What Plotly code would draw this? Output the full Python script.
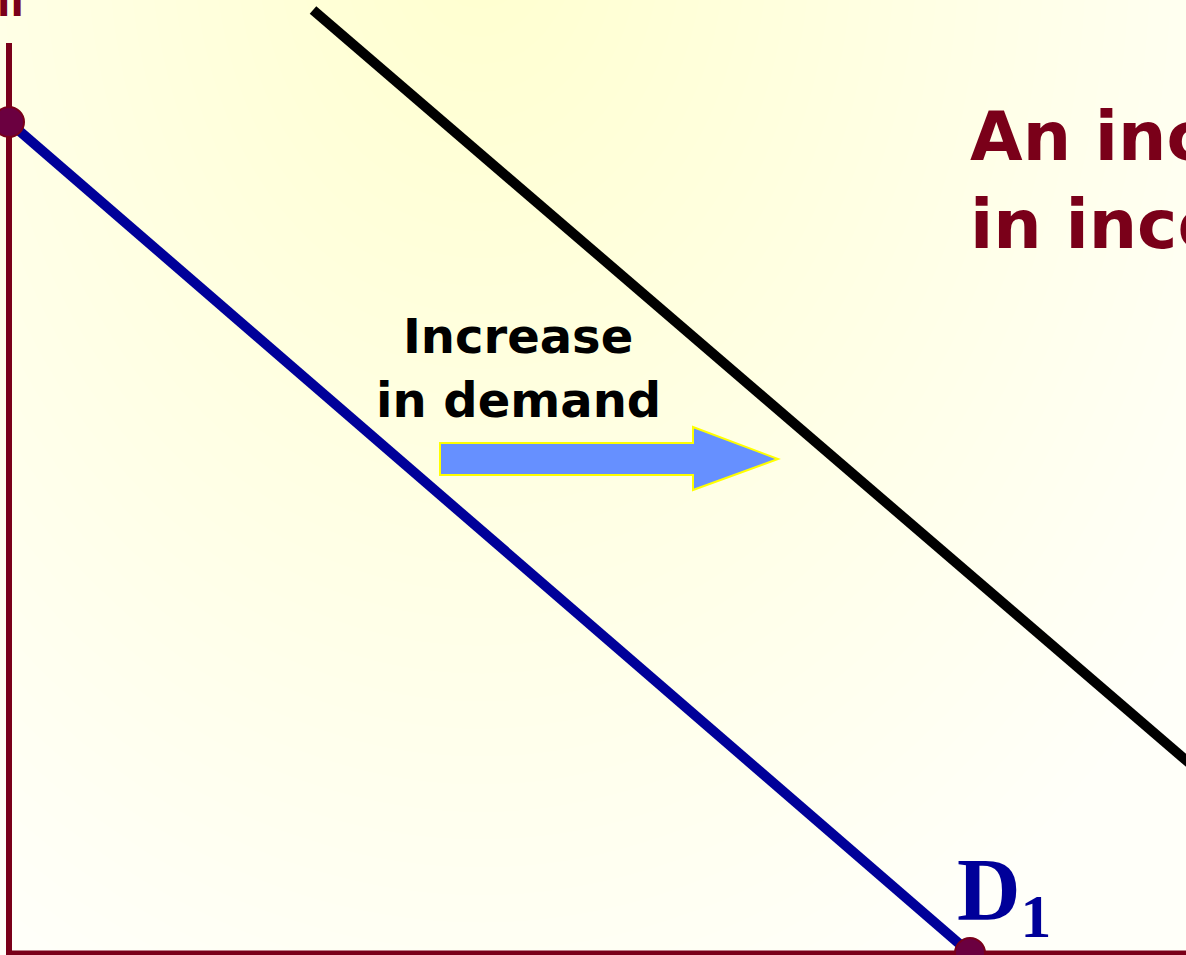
import numpy as np
import plotly.graph_objects as go

# ---- data (quantity / price in chart units) ----
d1_quantity = [0, 961]
d1_price = [831, 0]
d2_quantity = [304, 1250]
d2_price = [943, 130]
endpoint_quantity = [0, 961]
endpoint_price = [831, 0]
axis_q_range = [-9, 1177]
axis_p_range = [-2, 953]

title_lines = ["An increase", "in income"]
shift_label_lines = ["Increase", "in demand"]
curve_label = "D<sub>1</sub>"

MAROON = "#7a0019"
DOT = "#6b0040"
BLUE = "#000099"

fig = go.Figure()

# background gradient
gx = np.linspace(axis_q_range[0], axis_q_range[1], 60)
gy = np.linspace(axis_p_range[0], axis_p_range[1], 50)
GX, GY = np.meshgrid(gx, gy)
px = GX + 9
py = 953 - GY
dist = np.sqrt((px - 480) ** 2 + ((py + 60) / 1.3) ** 2)
z = np.minimum(249, 207 + 0.047 * dist)
fig.add_trace(go.Heatmap(x=gx, y=gy, z=z, zmin=205, zmax=250, zsmooth="best",
                         colorscale=[[0, "rgb(255,255,205)"], [1, "rgb(255,255,250)"]],
                         showscale=False, hoverinfo="skip"))

# axes drawn as lines
fig.add_trace(go.Scatter(x=[0, 0], y=[-5, 910], mode="lines",
                         line=dict(color=MAROON, width=6), hoverinfo="skip"))
fig.add_trace(go.Scatter(x=[-3, 1200], y=[0, 0], mode="lines",
                         line=dict(color=MAROON, width=5), hoverinfo="skip"))

# demand curves
fig.add_trace(go.Scatter(x=d2_quantity, y=d2_price, mode="lines",
                         line=dict(color="black", width=10), hoverinfo="skip"))
fig.add_trace(go.Scatter(x=d1_quantity, y=d1_price, mode="lines",
                         line=dict(color=BLUE, width=10), hoverinfo="skip"))
fig.add_trace(go.Scatter(x=endpoint_quantity, y=endpoint_price, mode="markers",
                         marker=dict(size=30, color=DOT, line=dict(color=MAROON, width=2)),
                         hoverinfo="skip"))

# arrow shape (pixel -> data: q = px-9, p = 953-py)
arrow_px = [(440, 443), (693, 443), (693, 427), (778, 459), (693, 490), (693, 475), (440, 475)]
path = "M " + " L ".join(f"{x-9},{953-y}" for x, y in arrow_px) + " Z"
fig.add_shape(type="path", path=path, fillcolor="#6690ff",
              line=dict(color="#ffff00", width=2), xref="x", yref="y")

font_b = "DejaVu Sans"
# right-hand title
fig.add_annotation(x=968 - 9, y=953 - 136, text="<b>" + title_lines[0] + "</b>",
                   xanchor="left", yanchor="middle", showarrow=False,
                   font=dict(family=font_b, size=68, color=MAROON))
fig.add_annotation(x=968 - 9, y=953 - 224, text="<b>" + title_lines[1] + "</b>",
                   xanchor="left", yanchor="middle", showarrow=False,
                   font=dict(family=font_b, size=68, color=MAROON))
# shift label
fig.add_annotation(x=518 - 9, y=953 - 336, text="<b>" + shift_label_lines[0] + "</b>",
                   xanchor="center", yanchor="middle", showarrow=False,
                   font=dict(family=font_b, size=48, color="black"))
fig.add_annotation(x=518 - 9, y=953 - 400, text="<b>" + shift_label_lines[1] + "</b>",
                   xanchor="center", yanchor="middle", showarrow=False,
                   font=dict(family=font_b, size=48, color="black"))
# curve label
fig.add_annotation(x=955 - 9, y=953 - 895, text="<b>" + curve_label + "</b>",
                   xanchor="left", yanchor="middle", showarrow=False,
                   font=dict(family="Liberation Serif", size=88, color=BLUE))
# cut-off axis label at top-left
fig.add_annotation(xref="paper", yref="paper", x=0, y=1, text="<b>II</b>",
                   xanchor="left", yanchor="bottom", xshift=-5, yshift=-26,
                   showarrow=False,
                   font=dict(family=font_b, size=36, color=MAROON))

fig.update_layout(
    width=1186, height=955,
    margin=dict(l=0, r=0, t=0, b=0),
    showlegend=False,
    paper_bgcolor="#fffff0",
    plot_bgcolor="#fffff0",
    xaxis=dict(range=axis_q_range, visible=False, fixedrange=True),
    yaxis=dict(range=axis_p_range, visible=False, fixedrange=True),
)

fig.write_html("out.html", config={"displayModeBar": False},
               post_script="document.body.style.margin='0';document.body.style.overflow='hidden';")
